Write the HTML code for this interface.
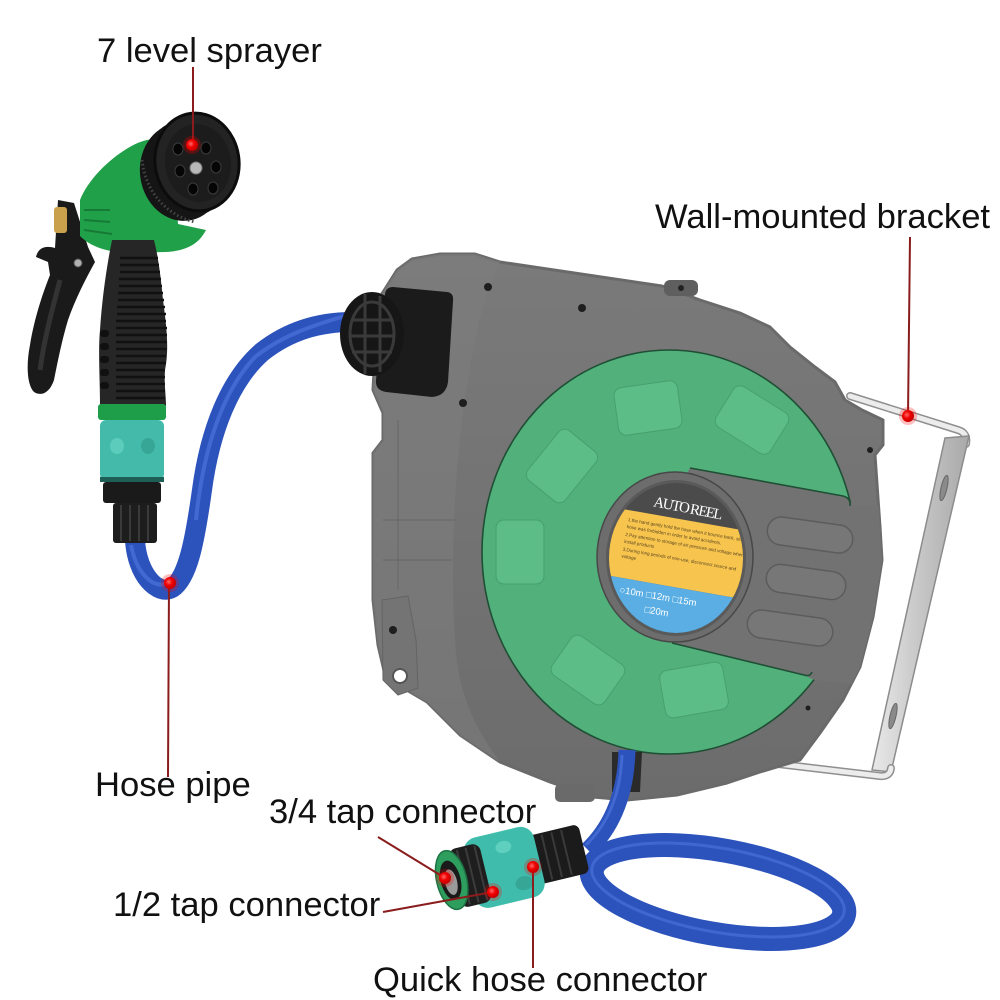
<!DOCTYPE html>
<html><head><meta charset="utf-8">
<style>
html,body{margin:0;padding:0;background:#fff;}
svg{display:block;}
.lbl{font-family:"Liberation Sans",Arial,sans-serif;font-size:34.6px;fill:#111;}
</style></head><body>
<svg width="1000" height="1000" viewBox="0 0 1000 1000" xmlns="http://www.w3.org/2000/svg">
<defs>
  <radialGradient id="dot" cx="0.4" cy="0.4" r="0.6">
    <stop offset="0" stop-color="#ff6a6a"/>
    <stop offset="0.5" stop-color="#f00000"/>
    <stop offset="1" stop-color="#c20000"/>
  </radialGradient>
  <linearGradient id="hous" x1="0" y1="0" x2="0" y2="1">
    <stop offset="0" stop-color="#7a7a7a"/>
    <stop offset="1" stop-color="#6c6c6c"/>
  </linearGradient>
  <linearGradient id="bar" x1="0" y1="0" x2="1" y2="0">
    <stop offset="0" stop-color="#e9e9e9"/>
    <stop offset="0.5" stop-color="#c6c6c6"/>
    <stop offset="1" stop-color="#a9a9a9"/>
  </linearGradient>
  <clipPath id="hclip">
    <path d="M397,270 L412,259 L440,254 L475,254 L500,262 L662,286 L700,300 L740,313 L770,327 L790,347 L815,367 L835,382 L845,400 L862,410 L883,420 L883,445 L875,455 L880,527 L882,560 L873,617 L860,667 L843,700 L820,733 L800,760 L760,772 L727,783 L677,795 L627,800 L593,797 L550,782 L500,762 L460,735 L427,702 L410,692 L385,675 L378,645 L373,600 L373,453 L383,440 L383,413 L373,390 L378,300 Z"/>
  </clipPath>
  <clipPath id="lblclip"><ellipse cx="676" cy="558" rx="67" ry="75"/></clipPath>
</defs>

<!-- ===== Bracket (behind housing) ===== -->
<path d="M850,396 L958,430 Q968,433 966,444" fill="none" stroke="#8f8f8f" stroke-width="8" stroke-linecap="round"/>
<path d="M850,396 L958,430 Q968,433 966,444" fill="none" stroke="#ececec" stroke-width="5" stroke-linecap="round"/>
<polygon points="945,438 969,436 891,772 872,770" fill="url(#bar)" stroke="#8c8c8c" stroke-width="1.5"/>
<ellipse cx="944" cy="488" rx="3" ry="13" transform="rotate(13 944 488)" fill="#8a8a8a" stroke="#666" stroke-width="1"/>
<ellipse cx="893" cy="716" rx="3" ry="13" transform="rotate(13 893 716)" fill="#8a8a8a" stroke="#666" stroke-width="1"/>
<path d="M770,763 L880,776 Q890,777 891,768" fill="none" stroke="#8f8f8f" stroke-width="8" stroke-linecap="round"/>
<path d="M770,763 L880,776 Q890,777 891,768" fill="none" stroke="#ececec" stroke-width="5" stroke-linecap="round"/>

<!-- ===== Housing ===== -->
<path d="M397,270 L412,259 L440,254 L475,254 L500,262 L662,286 L700,300 L740,313 L770,327 L790,347 L815,367 L835,382 L845,400 L862,410 L883,420 L883,445 L875,455 L880,527 L882,560 L873,617 L860,667 L843,700 L820,733 L800,760 L760,772 L727,783 L677,795 L627,800 L593,797 L550,782 L500,762 L460,735 L427,702 L410,692 L385,675 L378,645 L373,600 L373,453 L383,440 L383,413 L373,390 L378,300 Z" fill="url(#hous)" stroke="#6a6a6a" stroke-width="3" stroke-linejoin="round"/>
<path d="M500,262 C480,300 470,360 462,420 C455,480 450,560 455,640 C458,690 470,720 500,762 L460,735 L427,702 L410,692 L385,675 L378,645 L373,600 L373,453 L383,440 L383,413 L373,390 L378,300 L397,270 L412,259 L440,254 L475,254 Z" fill="#7e7e7e" opacity="0.55"/>
<path d="M398,420 L398,590" stroke="#666" stroke-width="1.5" opacity="0.6"/>
<path d="M383,520 L455,520 M383,560 L452,560" stroke="#656565" stroke-width="1.5" opacity="0.6"/>
<rect x="664" y="280" width="34" height="16" rx="6" fill="#5f5f5f"/>
<circle cx="681" cy="288" r="3" fill="#222"/>
<path d="M382,600 L408,596 L416,640 L418,688 L398,695 L383,680 Z" fill="#747474" stroke="#646464" stroke-width="1"/>
<circle cx="400" cy="676" r="7" fill="#fff" stroke="#555" stroke-width="2"/>
<rect x="555" y="784" width="40" height="18" rx="5" fill="#6a6a6a"/>
<circle cx="488" cy="287" r="4" fill="#1e1e1e"/>
<circle cx="582" cy="308" r="4" fill="#1e1e1e"/>
<circle cx="463" cy="403" r="4" fill="#1e1e1e"/>
<circle cx="393" cy="630" r="4" fill="#1e1e1e"/>
<circle cx="870" cy="450" r="3" fill="#1e1e1e"/>
<circle cx="808" cy="708" r="2.5" fill="#1e1e1e"/>

<!-- ===== Green disc ===== -->
<ellipse cx="669" cy="552" rx="187" ry="202" fill="#52b07b" stroke="#1f4f35" stroke-width="1.6"/>
<g fill="#5cbd87" stroke="#47a06d" stroke-width="1">
  <rect x="-32" y="-24" width="64" height="48" rx="8" transform="translate(648,408) rotate(-8)"/>
  <rect x="-32" y="-24" width="64" height="48" rx="8" transform="translate(752,420) rotate(32)"/>
  <rect x="-32" y="-24" width="64" height="48" rx="8" transform="translate(562,466) rotate(-51)"/>
  <rect x="-32" y="-24" width="64" height="48" rx="8" transform="translate(520,552) rotate(90)"/>
  <rect x="-32" y="-24" width="64" height="48" rx="8" transform="translate(588,670) rotate(35)"/>
  <rect x="-32" y="-24" width="64" height="48" rx="8" transform="translate(694,690) rotate(-10)"/>
</g>
<g clip-path="url(#hclip)">
  <path d="M672,500 L690,468 L840,496 Q850,498 852,505 L900,505 L900,690 L815,680 Q808,678 806,675 L672,643 Z" fill="#727272"/>
</g>
<path d="M690,468 L843,496 Q851,498 850,506" fill="none" stroke="#1f4f35" stroke-width="1.6"/>
<path d="M672,643 L804,675 Q810,677 812,672" fill="none" stroke="#1f4f35" stroke-width="1.6"/>
<g fill="#777" stroke="#5c5c5c" stroke-width="1.5">
  <rect x="-43" y="-14" width="86" height="28" rx="14" transform="translate(810,535) rotate(8)"/>
  <rect x="-40" y="-14" width="80" height="28" rx="14" transform="translate(806,582) rotate(8)"/>
  <rect x="-43" y="-14" width="86" height="28" rx="14" transform="translate(790,628) rotate(8)"/>
</g>

<!-- ===== Label ===== -->
<ellipse cx="675" cy="557" rx="78" ry="85" fill="#6d6d6d" stroke="#484848" stroke-width="1.5"/>
<ellipse cx="676" cy="558" rx="70" ry="78" fill="#5a5a5a"/>
<g clip-path="url(#lblclip)">
  <rect x="600" y="475" width="160" height="170" fill="#4b4b4b"/>
  <g transform="rotate(10 676 558)">
    <rect x="590" y="519" width="180" height="68" fill="#f7c44e"/>
    <rect x="590" y="587" width="180" height="80" fill="#5aaee3"/>
    <g font-family="Liberation Sans, Arial, sans-serif" font-size="4.6" fill="#5a4620">
      <text x="622" y="530">1.the hand gently hold the hose when it bounce back, slow hold it</text>
      <text x="622" y="537">hose was forbidden in order to avoid accidents.</text>
      <text x="622" y="545">2.Pay attention to storage of air pressure and voltage when</text>
      <text x="622" y="552">install products</text>
      <text x="622" y="560">3.During long periods of non-use, disconnect source and</text>
      <text x="622" y="567">voltage</text>
    </g>
    <g font-family="Liberation Sans, Arial, sans-serif" font-size="9.5" fill="#fff">
      <text x="626" y="602">○10m  □12m  □15m</text>
      <text x="654" y="617">□20m</text>
    </g>
  </g>
</g>
<text x="688" y="513" text-anchor="middle" transform="rotate(11 688 509)" font-family="Liberation Serif, serif" font-size="15" fill="#fff" textLength="70" lengthAdjust="spacing">AUTO REEL</text>

<!-- ===== Outlet box & knob ===== -->
<path d="M393,287 L447,292 Q454,293 453,301 L448,382 Q446,396 432,397 L386,392 Q375,390 376,380 L385,294 Q386,287 393,287 Z" fill="#1b1b1b"/>
<path d="M135,540 C137,575 158,596 172,588 C188,578 195,540 202,490 C210,430 230,380 262,352 C290,330 320,322 352,322" fill="none" stroke="#2c53bc" stroke-width="20"/>
<path d="M131,545 C136,572 152,588 165,584 M196,520 C203,450 222,392 255,357 C280,337 310,326 345,316" fill="none" stroke="#4a74da" stroke-width="4" opacity="0.7"/>
<ellipse cx="372" cy="334" rx="32" ry="42" fill="#161616"/>
<g stroke="#3a3a3a" stroke-width="3" fill="none">
  <ellipse cx="372" cy="334" rx="22" ry="32"/>
  <path d="M352,320 L393,320 M350,336 L395,336 M352,352 L392,352 M365,294 L365,374 M380,296 L380,372"/>
</g>

<!-- ===== Hose from reel to coil ===== -->
<path d="M612,752 L642,752 L640,792 L612,792 Z" fill="#1a1a1a" opacity="0.8"/>
<ellipse cx="718" cy="892" rx="128" ry="42" transform="rotate(10 718 892)" fill="none" stroke="#2c53bc" stroke-width="24"/>
<ellipse cx="718" cy="890" rx="128" ry="42" transform="rotate(10 718 890)" fill="none" stroke="#4c76dc" stroke-width="3" opacity="0.6"/>
<path d="M627,750 C626,790 614,825 588,850" fill="none" stroke="#2c53bc" stroke-width="17"/>
<path d="M622,755 C621,790 610,822 586,845" fill="none" stroke="#4a74da" stroke-width="3" opacity="0.7"/>

<!-- ===== Quick connector ===== -->
<g transform="rotate(-13.5 510 866)">
  <rect x="528" y="841" width="58" height="50" rx="6" fill="#1b1b1b"/>
  <g stroke="#3a3a3a" stroke-width="2">
    <line x1="538" y1="843" x2="538" y2="889"/><line x1="548" y1="843" x2="548" y2="889"/>
    <line x1="558" y1="843" x2="558" y2="889"/><line x1="568" y1="843" x2="568" y2="889"/>
  </g>
  <rect x="468" y="830" width="72" height="72" rx="14" fill="#3fbcab"/>
  <ellipse cx="508" cy="846" rx="8" ry="6" fill="#5fd0c0"/>
  <ellipse cx="520" cy="886" rx="9" ry="7" fill="#36a797"/>
  <rect x="453" y="836" width="32" height="60" rx="8" fill="#1e1e1e"/>
  <g stroke="#3c3c3c" stroke-width="2">
    <line x1="462" y1="838" x2="462" y2="894"/><line x1="471" y1="838" x2="471" y2="894"/><line x1="480" y1="838" x2="480" y2="894"/>
  </g>
  <ellipse cx="450" cy="866" rx="15" ry="30" fill="#2e9e5e" stroke="#1d7444" stroke-width="1.5"/>
  <ellipse cx="449" cy="866" rx="10" ry="20" fill="#1a1a1a"/>
  <ellipse cx="449" cy="868" rx="6" ry="13" fill="#9a9a9a"/>
</g>

<!-- ===== Spray gun ===== -->
<path d="M58,200 L74,203 L88,247 L95,262 C85,280 75,300 68,320 C62,340 58,360 54,380 C50,392 42,397 34,392 C27,385 26,365 30,345 C34,320 42,295 50,275 L48,262 L36,257 C38,248 45,245 55,248 Z" fill="#1a1a1a"/>
<path d="M60,280 C52,310 44,340 40,370" stroke="#333" stroke-width="5" fill="none"/>
<rect x="54" y="207" width="13" height="26" rx="3" fill="#c9a14c"/>
<path d="M80,200 C88,180 108,160 128,148 C140,141 150,138 158,140 L172,152 L178,224 L206,230 C199,244 186,251 166,252 L124,253 C104,251 90,246 80,236 Z" fill="#21a04a"/>
<path d="M84,210 L110,210 M84,220 L110,222 M84,230 L112,234" stroke="#167a36" stroke-width="2"/>
<path d="M112,240 L154,240 C159,260 161,280 163,300 C167,330 169,350 165,370 C164,385 166,395 166,406 L100,406 C100,380 98,350 100,330 C102,300 106,270 112,240 Z" fill="#262626"/>
<g stroke="#111" stroke-width="2.5">
  <line x1="120" y1="258" x2="158" y2="258"/><line x1="120" y1="265" x2="159" y2="265"/>
  <line x1="120" y1="272" x2="160" y2="272"/><line x1="119" y1="279" x2="161" y2="279"/>
  <line x1="119" y1="286" x2="162" y2="286"/><line x1="118" y1="293" x2="163" y2="293"/>
  <line x1="118" y1="300" x2="164" y2="300"/><line x1="117" y1="307" x2="165" y2="307"/>
  <line x1="117" y1="314" x2="166" y2="314"/><line x1="116" y1="321" x2="166" y2="321"/>
  <line x1="116" y1="328" x2="167" y2="328"/><line x1="116" y1="335" x2="167" y2="335"/>
  <line x1="116" y1="342" x2="167" y2="342"/><line x1="116" y1="349" x2="167" y2="349"/>
  <line x1="116" y1="356" x2="166" y2="356"/><line x1="116" y1="363" x2="166" y2="363"/>
  <line x1="116" y1="370" x2="165" y2="370"/><line x1="116" y1="377" x2="165" y2="377"/>
  <line x1="116" y1="384" x2="165" y2="384"/><line x1="116" y1="391" x2="165" y2="391"/>
  <line x1="116" y1="398" x2="165" y2="398"/>
</g>
<g fill="#101010">
  <rect x="100" y="330" width="9" height="7" rx="3"/><rect x="100" y="343" width="9" height="7" rx="3"/>
  <rect x="100" y="356" width="9" height="7" rx="3"/><rect x="100" y="369" width="9" height="7" rx="3"/>
  <rect x="100" y="382" width="9" height="7" rx="3"/>
</g>
<circle cx="78" cy="263" r="4" fill="#b0b0b0" stroke="#555" stroke-width="1"/>
<g fill="#151515">
  <ellipse cx="182" cy="172" rx="42" ry="49" transform="rotate(-8 182 172)"/>
  <ellipse cx="186" cy="169" rx="42" ry="49" transform="rotate(-8 186 169)"/>
  <ellipse cx="190" cy="167" rx="42" ry="49" transform="rotate(-8 190 167)"/>
  <ellipse cx="194" cy="164" rx="42" ry="49" transform="rotate(-8 194 164)"/>
</g>
<path d="M142,160 C145,190 165,215 195,222" fill="none" stroke="#444" stroke-width="3" stroke-dasharray="1.5 2.5"/>
<ellipse cx="197" cy="162" rx="42" ry="49" transform="rotate(-8 197 162)" fill="#232323" stroke="#0c0c0c" stroke-width="3"/>
<ellipse cx="198" cy="163" rx="33" ry="39" transform="rotate(-8 198 163)" fill="#1c1c1c"/>
<g fill="#050505" stroke="#3a3a3a" stroke-width="1">
  <ellipse cx="178" cy="149" rx="5" ry="6"/>
  <ellipse cx="206" cy="148" rx="5" ry="6"/>
  <ellipse cx="180" cy="171" rx="5" ry="6"/>
  <ellipse cx="216" cy="167" rx="5" ry="6"/>
  <ellipse cx="193" cy="189" rx="5" ry="6"/>
  <ellipse cx="213" cy="188" rx="5" ry="6"/>
</g>
<circle cx="196" cy="168" r="6" fill="#b8b8b8" stroke="#777" stroke-width="1"/>
<rect x="98" y="404" width="68" height="16" rx="3" fill="#1f9e4a"/>
<rect x="100" y="420" width="64" height="60" rx="6" fill="#44bbaa"/>
<ellipse cx="117" cy="446" rx="7" ry="8" fill="#5ccdbd"/>
<ellipse cx="148" cy="446" rx="7" ry="8" fill="#38a696"/>
<rect x="100" y="477" width="64" height="5" fill="#1e5f55"/>
<rect x="103" y="482" width="58" height="21" rx="3" fill="#1a1a1a"/>
<rect x="113" y="503" width="44" height="40" rx="3" fill="#1d1d1d"/>
<g stroke="#3a3a3a" stroke-width="2">
  <line x1="121" y1="505" x2="121" y2="541"/><line x1="130" y1="505" x2="130" y2="541"/>
  <line x1="139" y1="505" x2="139" y2="541"/><line x1="148" y1="505" x2="148" y2="541"/>
</g>

<!-- ===== Callout lines ===== -->
<g stroke="#8a1c1c" stroke-width="2" fill="none">
  <line x1="193" y1="67" x2="193" y2="145"/>
  <line x1="910" y1="237" x2="908" y2="416"/>
  <line x1="169" y1="583" x2="168" y2="777"/>
  <line x1="378" y1="837" x2="445" y2="878"/>
  <line x1="383" y1="912" x2="493" y2="892"/>
  <line x1="533" y1="867" x2="533" y2="968"/>
</g>
<g>
  <circle cx="192" cy="145" r="9" fill="#ff0000" opacity="0.25"/>
  <circle cx="908" cy="416" r="9" fill="#ff0000" opacity="0.25"/>
  <circle cx="170" cy="583" r="9" fill="#ff0000" opacity="0.25"/>
  <circle cx="445" cy="878" r="9" fill="#ff0000" opacity="0.25"/>
  <circle cx="493" cy="892" r="9" fill="#ff0000" opacity="0.25"/>
  <circle cx="533" cy="867" r="9" fill="#ff0000" opacity="0.25"/>
  <circle cx="192" cy="145" r="6" fill="url(#dot)"/>
  <circle cx="908" cy="416" r="6" fill="url(#dot)"/>
  <circle cx="170" cy="583" r="6" fill="url(#dot)"/>
  <circle cx="445" cy="878" r="6" fill="url(#dot)"/>
  <circle cx="493" cy="892" r="6" fill="url(#dot)"/>
  <circle cx="533" cy="867" r="6" fill="url(#dot)"/>
</g>

<!-- ===== Labels ===== -->
<text class="lbl" x="97" y="62">7 level sprayer</text>
<text class="lbl" x="655" y="228">Wall-mounted bracket</text>
<text class="lbl" x="95" y="796">Hose pipe</text>
<text class="lbl" x="269" y="823">3/4 tap connector</text>
<text class="lbl" x="113" y="916">1/2 tap connector</text>
<text class="lbl" x="373" y="991">Quick hose connector</text>
</svg>
</body></html>
